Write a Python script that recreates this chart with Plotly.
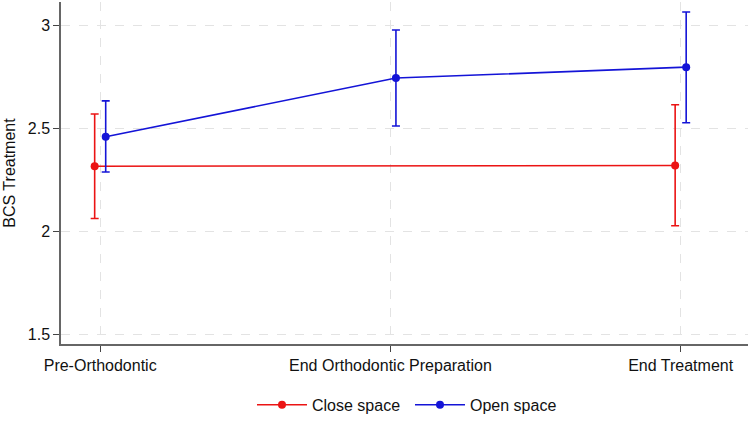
import plotly.graph_objects as go

categories = ["Pre-Orthodontic", "End Orthodontic Preparation", "End Treatment"]
cat_pos = [0, 1, 2]

close_mean = [2.316, None, 2.320]
close_lo = [2.062, None, 2.027]
close_hi = [2.570, None, 2.615]

open_mean = [2.460, 2.745, 2.798]
open_lo = [2.288, 2.512, 2.528]
open_hi = [2.634, 2.979, 3.066]

y_ticks = [1.5, 2, 2.5, 3]
y_tick_text = ["1.5", "2", "2.5", "3"]

offset = 0.019

def err(mean, lo, hi):
    plus = [None if m is None else h - m for m, h in zip(mean, hi)]
    minus = [None if m is None else m - l for m, l in zip(mean, lo)]
    return plus, minus

fig = go.Figure()

red = "rgb(235,20,20)"
blue = "rgb(20,20,215)"

cp, cm = err(close_mean, close_lo, close_hi)
fig.add_trace(go.Scatter(
    x=[p - offset for p in cat_pos], y=close_mean, name="Close space",
    mode="lines+markers", connectgaps=True,
    line=dict(color=red, width=1.6),
    marker=dict(color=red, size=8),
    error_y=dict(type="data", symmetric=False, array=cp, arrayminus=cm,
                 color=red, thickness=1.6, width=4),
))

op, om = err(open_mean, open_lo, open_hi)
fig.add_trace(go.Scatter(
    x=[p + offset for p in cat_pos], y=open_mean, name="Open space",
    mode="lines+markers",
    line=dict(color=blue, width=1.6),
    marker=dict(color=blue, size=8),
    error_y=dict(type="data", symmetric=False, array=op, arrayminus=om,
                 color=blue, thickness=1.6, width=4),
))

font_family = "Liberation Sans, Arial, sans-serif"

fig.update_layout(
    width=750, height=428,
    margin=dict(l=61, r=2, t=2, b=84, autoexpand=False),
    paper_bgcolor="white", plot_bgcolor="white",
    font=dict(family=font_family, size=16, color="#111"),
    showlegend=True,
    legend=dict(orientation="h", x=0.508, xanchor="center", y=-0.178, yanchor="middle",
                font=dict(size=16, color="#111"), itemwidth=50,
                entrywidth=93, entrywidthmode="pixels"),
    xaxis=dict(
        range=[-0.135, 2.232], tickmode="array", tickvals=cat_pos, ticktext=categories,
        showgrid=True, gridcolor="#e3e3e3", griddash="dash", gridwidth=1,
        showline=True, linecolor="#666", linewidth=1.5,
        ticks="outside", ticklen=6, tickcolor="#444", tickwidth=1,
        zeroline=False, tickfont=dict(size=16),
    ),
    yaxis=dict(
        range=[1.4515, 3.115], tickmode="array", tickvals=y_ticks, ticktext=y_tick_text,
        showgrid=True, gridcolor="#e3e3e3", griddash="dash", gridwidth=1,
        showline=True, linecolor="#666", linewidth=1.5,
        ticks="outside", ticklen=6, tickcolor="#444", tickwidth=1,
        zeroline=False, tickfont=dict(size=16),
        title=dict(text="BCS Treatment", font=dict(size=16), standoff=8),
    ),
)

fig.write_html("out.html")
